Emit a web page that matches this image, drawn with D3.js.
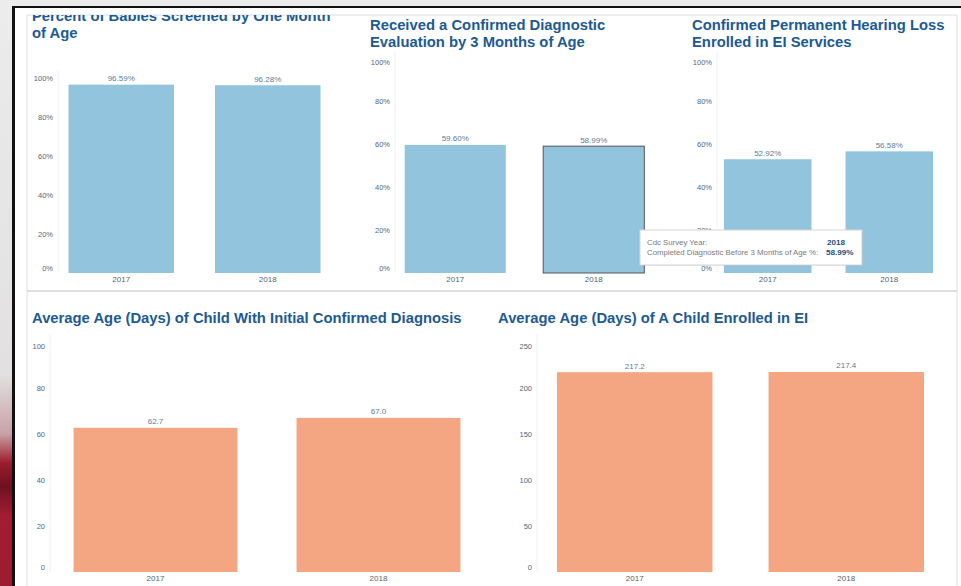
<!DOCTYPE html>
<html>
<head>
<meta charset="utf-8">
<script src="https://cdn.jsdelivr.net/npm/d3@7"></script>
<style>
  body { margin: 0; background: #e9e9e9; }
  svg { display: block; font-family: Arial, "Liberation Sans", sans-serif; }
</style>
</head>
<body>
<svg width="961" height="586"></svg>
<script>
// data
var years = ["2017", "2018"];
var screened = [96.59, 96.28];
var diagnosed = [59.60, 58.99];
var enrolled = [52.92, 56.58];
var ageDiagnosis = [62.7, 67.0];
var ageEnrolled = [217.2, 217.4];
var pctTicks = [0, 20, 40, 60, 80, 100];
var ageTicks = [0, 20, 40, 60, 80, 100];
var enrollTicks = [0, 50, 100, 150, 200, 250];

var svg = d3.select("svg");

var titleColor = "#1d5a91",
    tickColor = "#51677e",
    valueColor = "#5a7b9a",
    blue = "#92c5dd",
    salmon = "#f4a582";

// page background + frame
var defs = svg.append("defs");
var grad = defs.append("linearGradient").attr("id", "redside")
  .attr("x1", 0).attr("y1", 0).attr("x2", 0).attr("y2", 1);
grad.append("stop").attr("offset", "0%").attr("stop-color", "#ececec");
grad.append("stop").attr("offset", "64%").attr("stop-color", "#e2e0e0");
grad.append("stop").attr("offset", "74%").attr("stop-color", "#c9a1a6");
grad.append("stop").attr("offset", "79%").attr("stop-color", "#9c1c2f");
grad.append("stop").attr("offset", "83%").attr("stop-color", "#6e1020");
grad.append("stop").attr("offset", "88%").attr("stop-color", "#a21d32");
grad.append("stop").attr("offset", "100%").attr("stop-color", "#9d1b30");

svg.append("rect").attr("width", 961).attr("height", 586).attr("fill", "#ebebeb");
svg.append("rect").attr("x", 0).attr("y", 0).attr("width", 13).attr("height", 586).attr("fill", "url(#redside)");
svg.append("rect").attr("x", 14).attr("y", 8).attr("width", 947).attr("height", 578).attr("fill", "#fff");
svg.append("rect").attr("x", 12).attr("y", 6).attr("width", 949).attr("height", 2).attr("fill", "#111");
svg.append("rect").attr("x", 12).attr("y", 6).attr("width", 3).attr("height", 580).attr("fill", "#111");

// panel borders
var border = "#dedede";
svg.append("line").attr("x1", 27).attr("x2", 957).attr("y1", 15).attr("y2", 15).attr("stroke", border);
svg.append("line").attr("x1", 27).attr("x2", 957).attr("y1", 291).attr("y2", 291).attr("stroke", border).attr("stroke-width", 2);
svg.append("line").attr("x1", 27).attr("x2", 27).attr("y1", 15).attr("y2", 586).attr("stroke", border);
svg.append("line").attr("x1", 957).attr("x2", 957).attr("y1", 15).attr("y2", 586).attr("stroke", border);

defs.append("clipPath").attr("id", "topclip")
  .append("rect").attr("x", 0).attr("y", 15).attr("width", 961).attr("height", 600);

var charts = [
  { values: screened, ticks: pctTicks, max: 100, pct: true, color: blue,
    title: ["Percent of Babies Screened by One Month", "of Age"], tx: 32, ty: [21, 38],
    xr: [48, 341], yr: [273, 78], labelX: 53, pad: 0.28, shiftTop: 0 },
  { values: diagnosed, ticks: pctTicks, max: 100, pct: true, color: blue,
    title: ["Received a Confirmed Diagnostic", "Evaluation by 3 Months of Age"], tx: 370, ty: [30, 47],
    xr: [386, 663], yr: [273, 58], labelX: 390, pad: 0.27, shiftTop: 4, selected: 1 },
  { values: enrolled, ticks: pctTicks, max: 100, pct: true, color: blue,
    title: ["Confirmed Permanent Hearing Loss", "Enrolled in EI Services"], tx: 692, ty: [30, 47],
    xr: [707, 950], yr: [273, 58], labelX: 712, pad: 0.28, shiftTop: 4 },
  { values: ageDiagnosis, ticks: ageTicks, max: 100, pct: false, color: salmon,
    title: ["Average Age (Days) of Child With Initial Confirmed Diagnosis"], tx: 32, ty: [323],
    xr: [44, 490], yr: [572, 342], labelX: 45, pad: 0.265, shiftTop: 4 },
  { values: ageEnrolled, ticks: enrollTicks, max: 250, pct: false, color: salmon,
    title: ["Average Age (Days) of A Child Enrolled in EI"], tx: 498, ty: [323],
    xr: [529, 952], yr: [572, 342], labelX: 532, pad: 0.265, shiftTop: 4 }
];

charts.forEach(function(c) {
  var g = svg.append("g");
  var x = d3.scaleBand().domain(years).range(c.xr).paddingInner(c.pad).paddingOuter(c.pad / 2);
  var y = d3.scaleLinear().domain([0, c.max]).range(c.yr);

  // title
  g.append("text")
    .attr("clip-path", "url(#topclip)")
    .attr("font-size", 14.8).attr("font-weight", "bold").attr("fill", titleColor)
    .selectAll("tspan").data(c.title).enter().append("tspan")
    .attr("x", c.tx).attr("y", function(d, i) { return c.ty[i]; })
    .text(function(d) { return d; });

  // faint axis line
  g.append("line").attr("x1", c.labelX + 5).attr("x2", c.labelX + 5)
    .attr("y1", c.yr[1] - 8).attr("y2", c.yr[0])
    .attr("stroke", "#f1f1f1");

  // y axis
  var ya = g.append("g").attr("transform", "translate(" + (c.labelX + 3) + ",0)")
    .call(d3.axisLeft(y).tickValues(c.ticks).tickSize(0)
      .tickFormat(function(d) { return c.pct ? d + "%" : d; }));
  ya.select(".domain").remove();
  ya.selectAll("text").attr("font-size", 7.5).attr("fill", tickColor).attr("font-family", null)
    .attr("dy", function(d) {
      if (d === 0) return "-0.35em";
      if (d === c.max) return (0.32 + c.shiftTop / 7.5) + "em";
      return "0.32em";
    });

  // bars
  g.selectAll(".bar").data(c.values).enter().append("rect")
    .attr("class", "bar")
    .attr("x", function(d, i) { return x(years[i]); })
    .attr("width", x.bandwidth())
    .attr("y", function(d) { return y(d); })
    .attr("height", function(d) { return y(0) - y(d); })
    .attr("fill", c.color)
    .attr("stroke", function(d, i) { return i === c.selected ? "#555" : "none"; });

  // value labels
  g.selectAll(".val").data(c.values).enter().append("text")
    .attr("x", function(d, i) { return x(years[i]) + x.bandwidth() / 2; })
    .attr("y", function(d) { return y(d) - 3.5; })
    .attr("text-anchor", "middle").attr("font-size", 8).attr("fill", valueColor)
    .text(function(d) { return c.pct ? d.toFixed(2) + "%" : d.toFixed(1); });

  // year labels
  g.selectAll(".yr").data(years).enter().append("text")
    .attr("x", function(d) { return x(d) + x.bandwidth() / 2; })
    .attr("y", y(0) + 9)
    .attr("text-anchor", "middle").attr("font-size", 8).attr("fill", "#555f6a")
    .text(function(d) { return d; });
});

// tooltip on selected bar
var tip = svg.append("g").attr("transform", "translate(640,230)");
tip.append("rect").attr("x", 1).attr("y", 1).attr("width", 222).attr("height", 35).attr("fill", "#000").attr("opacity", 0.08);
tip.append("rect").attr("width", 222).attr("height", 35).attr("fill", "#fff").attr("stroke", "#d6d6d6");
tip.append("text").attr("x", 7).attr("y", 15).attr("font-size", 7.8).attr("fill", "#7a7a7a").text("Cdc Survey Year:");
tip.append("text").attr("x", 7).attr("y", 25).attr("font-size", 7.8).attr("fill", "#7a7a7a").text("Completed Diagnostic Before 3 Months of Age %:");
tip.append("text").attr("x", 187).attr("y", 15).attr("font-size", 8.1).attr("font-weight", "bold").attr("fill", "#1d4f7c").text(years[1]);
tip.append("text").attr("x", 186).attr("y", 25).attr("font-size", 8.1).attr("font-weight", "bold").attr("fill", "#1d4f7c").text(diagnosed[1].toFixed(2) + "%");
</script>
</body>
</html>
